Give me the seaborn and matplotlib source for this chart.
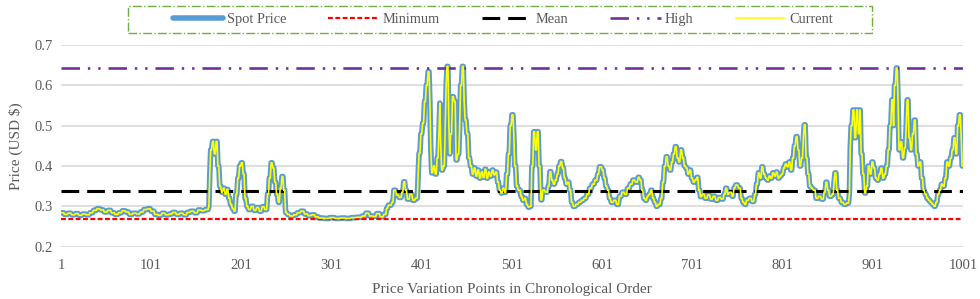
import numpy as np
import pandas as pd
import matplotlib
matplotlib.use("Agg")
import matplotlib.pyplot as plt
from matplotlib.patches import Rectangle
import seaborn as sns

# ---- data ----
# spot price as runs: last index of each run and the price held in that run
run_ends = [4, 8, 12, 16, 20, 24, 28, 32, 36, 40, 44, 48, 52, 56, 60, 64, 68, 72, 76, 80,
            84, 88, 92, 96, 100, 104, 108, 112, 116, 120, 124, 128, 132, 136, 140, 144, 148, 152, 156, 160, 164,
            165, 166, 168, 170, 172, 174, 176, 178, 180, 182, 184, 186, 188, 190, 192, 194, 196, 198, 200, 202,
            204, 206, 208, 211, 214, 217, 220, 223, 226, 229, 231, 233, 235, 237, 239, 241, 243, 245, 247, 249,
            251, 254, 258, 262, 266, 270, 274, 278, 282, 286,
            292, 298, 304, 310, 316, 322, 328, 334, 338, 342, 346, 350, 354, 358, 361, 363, 367, 369, 372, 375,
            378, 380, 382, 384, 387, 390, 393, 396,
            397, 399, 401, 403, 405, 407, 409, 410, 411, 413, 415, 417, 419, 420, 421, 422, 424, 426, 427, 428,
            430, 431, 432, 434, 436, 438, 440, 442, 443, 445, 447, 448, 450, 452, 454, 456, 458, 460, 462, 464,
            466, 468, 470, 472, 474, 476, 478, 480, 482, 484, 486, 488, 490, 492, 494, 496, 498, 500, 502,
            503, 505, 507, 510, 512, 514, 516, 518, 520, 522, 524, 526, 528, 530, 532, 534, 537, 540, 542, 544,
            546, 548, 550, 552, 554, 556, 558, 560, 562, 564, 566, 568, 571, 574, 577, 580, 583, 586, 589, 592,
            595, 597, 600, 602, 604, 606, 608, 610, 613, 616, 619, 622, 625, 628, 631, 634, 637, 640, 642, 644,
            646, 648, 650, 652, 654, 656, 658, 660, 662,
            665, 667, 669, 671, 673, 675, 677, 679, 681, 683, 685, 687, 689, 691, 693, 695, 697, 699, 701, 703,
            705, 707, 709, 711, 714, 717, 720, 723, 726, 729, 732, 735, 737, 739, 741, 744, 746, 748, 751, 754,
            756, 758, 760, 763, 766, 769, 771, 773, 775, 777, 779, 781, 783, 785, 787, 789, 791, 793, 795, 797,
            799, 801, 803, 805, 807, 809, 811, 813, 815, 817, 819, 821, 823, 824, 826, 828, 830, 832,
            834, 837, 840, 843, 846, 848, 850, 852, 855, 857, 858, 860, 862, 865, 868, 871, 874, 875, 876, 878,
            880, 882, 884, 886, 887, 889, 891, 893, 895, 897, 899, 901, 903, 905, 907, 909, 911, 913, 915, 917,
            919, 921, 923, 924, 926, 928, 929, 931, 933, 935, 937, 938, 940, 942, 944, 946, 948, 950, 952, 954,
            956, 958, 960, 962, 964, 966, 968, 970, 972, 974, 976, 978, 980, 982, 984, 986, 988, 990, 992, 994,
            996, 998, 999, 1001]
run_prices = [0.284, 0.280, 0.283, 0.279, 0.282, 0.278, 0.281, 0.279, 0.284, 0.290, 0.294, 0.291, 0.286, 0.290,
              0.284, 0.280, 0.284, 0.289, 0.286, 0.280, 0.283, 0.281, 0.286, 0.292, 0.294, 0.288, 0.280, 0.278,
              0.283, 0.279, 0.281, 0.285, 0.280, 0.283, 0.279, 0.285, 0.288, 0.284, 0.291, 0.289, 0.292,
              0.300, 0.380, 0.440, 0.461, 0.430, 0.461, 0.400, 0.350, 0.335, 0.345, 0.330, 0.342, 0.320, 0.305,
              0.295, 0.288, 0.330, 0.370, 0.400, 0.408, 0.380, 0.320, 0.300, 0.292, 0.300, 0.290, 0.297, 0.288,
              0.299, 0.292, 0.330, 0.370, 0.408, 0.395, 0.360, 0.330, 0.310, 0.345, 0.374, 0.340, 0.285, 0.280,
              0.276, 0.279, 0.284, 0.288, 0.281, 0.277, 0.279, 0.274,
              0.271, 0.270, 0.272, 0.270, 0.271, 0.270, 0.272, 0.273, 0.276, 0.283, 0.276, 0.275, 0.282, 0.274,
              0.280, 0.295, 0.303, 0.310, 0.340, 0.328, 0.322, 0.335, 0.361, 0.340, 0.318, 0.330, 0.315, 0.320,
              0.380, 0.432, 0.480, 0.507, 0.560, 0.600, 0.634, 0.560, 0.440, 0.383, 0.400, 0.380, 0.420, 0.480,
              0.556, 0.450, 0.390, 0.400, 0.500, 0.600, 0.647, 0.500, 0.430, 0.480, 0.572, 0.560, 0.415, 0.430,
              0.500, 0.600, 0.647, 0.560, 0.514, 0.480, 0.420, 0.400, 0.380, 0.395, 0.375, 0.390, 0.370, 0.385,
              0.372, 0.392, 0.370, 0.385, 0.375, 0.390, 0.378, 0.385, 0.360, 0.340, 0.333, 0.345, 0.335, 0.380,
              0.430, 0.500, 0.527,
              0.480, 0.400, 0.350, 0.340, 0.325, 0.315, 0.320, 0.305, 0.298, 0.300, 0.400, 0.485, 0.440, 0.485,
              0.400, 0.316, 0.340, 0.335, 0.350, 0.386, 0.365, 0.355, 0.365, 0.380, 0.400, 0.411, 0.395, 0.370,
              0.355, 0.360, 0.340, 0.310, 0.300, 0.305, 0.310, 0.315, 0.320, 0.330, 0.345, 0.355, 0.365, 0.380,
              0.398, 0.390, 0.370, 0.350, 0.340, 0.320, 0.310, 0.315, 0.305, 0.325, 0.335, 0.330, 0.345, 0.355,
              0.365, 0.360, 0.372, 0.365, 0.340, 0.320, 0.315, 0.325, 0.330, 0.340, 0.320, 0.310, 0.300,
              0.305, 0.320, 0.360, 0.400, 0.423, 0.400, 0.390, 0.410, 0.430, 0.448, 0.420, 0.410, 0.440, 0.420,
              0.400, 0.395, 0.380, 0.390, 0.370, 0.360, 0.365, 0.372, 0.340, 0.324, 0.330, 0.320, 0.328, 0.318,
              0.325, 0.315, 0.322, 0.318, 0.330, 0.345, 0.330, 0.335, 0.325, 0.345, 0.353, 0.345, 0.320, 0.310,
              0.305, 0.315, 0.320, 0.312, 0.330, 0.355, 0.383, 0.370, 0.398, 0.380, 0.370, 0.365, 0.375, 0.370,
              0.383, 0.375, 0.385, 0.370, 0.375, 0.380, 0.395, 0.405, 0.398, 0.410, 0.390, 0.420, 0.450, 0.473,
              0.440, 0.400, 0.420, 0.470, 0.502, 0.420, 0.380, 0.350,
              0.345, 0.340, 0.320, 0.325, 0.318, 0.335, 0.360, 0.340, 0.325, 0.330, 0.360, 0.383, 0.340, 0.320,
              0.310, 0.305, 0.308, 0.330, 0.448, 0.500, 0.539, 0.470, 0.539, 0.480, 0.539, 0.430, 0.380, 0.333,
              0.350, 0.400, 0.380, 0.410, 0.395, 0.370, 0.365, 0.380, 0.395, 0.370, 0.380, 0.400, 0.440, 0.500,
              0.564, 0.500, 0.600, 0.643, 0.560, 0.440, 0.460, 0.420, 0.445, 0.500, 0.564, 0.470, 0.440, 0.480,
              0.514, 0.430, 0.400, 0.410, 0.370, 0.340, 0.330, 0.320, 0.315, 0.310, 0.305, 0.300, 0.310, 0.330,
              0.340, 0.355, 0.350, 0.370, 0.410, 0.400, 0.420, 0.440, 0.470, 0.430, 0.500, 0.527, 0.470, 0.400]

minimum_price = 0.268
mean_price = 0.337
high_price = 0.644

x_ticks = [1, 101, 201, 301, 401, 501, 601, 701, 801, 901, 1001]
y_ticks = [0.2, 0.3, 0.4, 0.5, 0.6, 0.7]
series_names = ["Spot Price", "Minimum", "Mean", "High", "Current"]

# ---- build table ----
lengths = np.diff(np.concatenate([[0], run_ends]))
spot = np.repeat(run_prices, lengths)
idx = np.arange(1, len(spot) + 1)
df = pd.DataFrame({
    "point": idx,
    "Spot Price": spot,
    "Minimum": np.full(len(spot), minimum_price),
    "Mean": np.full(len(spot), mean_price),
    "High": np.full(len(spot), high_price),
    "Current": spot,
})

sns.set_theme(style="white")
plt.rcParams["font.family"] = ["Liberation Serif", "DejaVu Serif"]

fig = plt.figure(figsize=(9.8, 2.99), dpi=100)
ax = fig.add_axes([0.0622, 0.175, 0.9205, 0.6745])

gray = "#595959"
styles = {
    "Spot Price": dict(color="#5B9BD5", lw=4.0, dashes=None),
    "Minimum": dict(color="#FF0000", lw=1.6, dashes=(2.2, 1.1)),
    "Mean": dict(color="#000000", lw=2.2, dashes=(5.8, 2.6)),
    "High": dict(color="#7030A0", lw=1.9, dashes=(7, 3, 0.9, 3, 0.9, 3)),
    "Current": dict(color="#FFFF00", lw=1.2, dashes=None),
}
for name in series_names:
    st = styles[name]
    sns.lineplot(data=df, x="point", y=name, ax=ax, color=st["color"], lw=st["lw"],
                 label=name, solid_capstyle="round" if name == "Spot Price" else "butt")
    line = ax.lines[-1]
    if st["dashes"] is not None:
        line.set_dashes(st["dashes"])

ax.set_xlim(1, 1001)
ax.set_ylim(0.2, 0.7)
ax.set_xticks(x_ticks)
ax.set_xticklabels([str(t) for t in x_ticks])
ax.set_yticks(y_ticks)
ax.set_yticklabels([f"{t:.1f}" for t in y_ticks])
ax.yaxis.grid(True, color="#D9D9D9", lw=1.2)
ax.xaxis.grid(False)
ax.set_axisbelow(True)
for s in ax.spines.values():
    s.set_visible(False)
ax.tick_params(axis="both", length=0, labelsize=10.5, labelcolor=gray, pad=6)
ax.tick_params(axis="x", pad=9)
ax.set_xlabel("Price Variation Points in Chronological Order", fontsize=11, color=gray, labelpad=8)
ax.set_ylabel("Price (USD $)", fontsize=11, color=gray, labelpad=8)

leg = ax.legend(loc="center", bbox_to_anchor=(0.513, 0.935), bbox_transform=fig.transFigure,
                ncol=5, frameon=False, fontsize=10.4, handlelength=3.5,
                handletextpad=0.25, columnspacing=2.9, borderpad=0.45)
for t in leg.get_texts():
    t.set_color(gray)

# legend box with green dash-dot border
box = Rectangle((128 / 980, 1 - 33 / 299), (872 - 128) / 980, 27 / 299,
                transform=fig.transFigure, facecolor="none", edgecolor="#70AD47",
                linestyle="-.", linewidth=1.0, zorder=5)
fig.patches.append(box)

fig.savefig("out.png", dpi=100)
